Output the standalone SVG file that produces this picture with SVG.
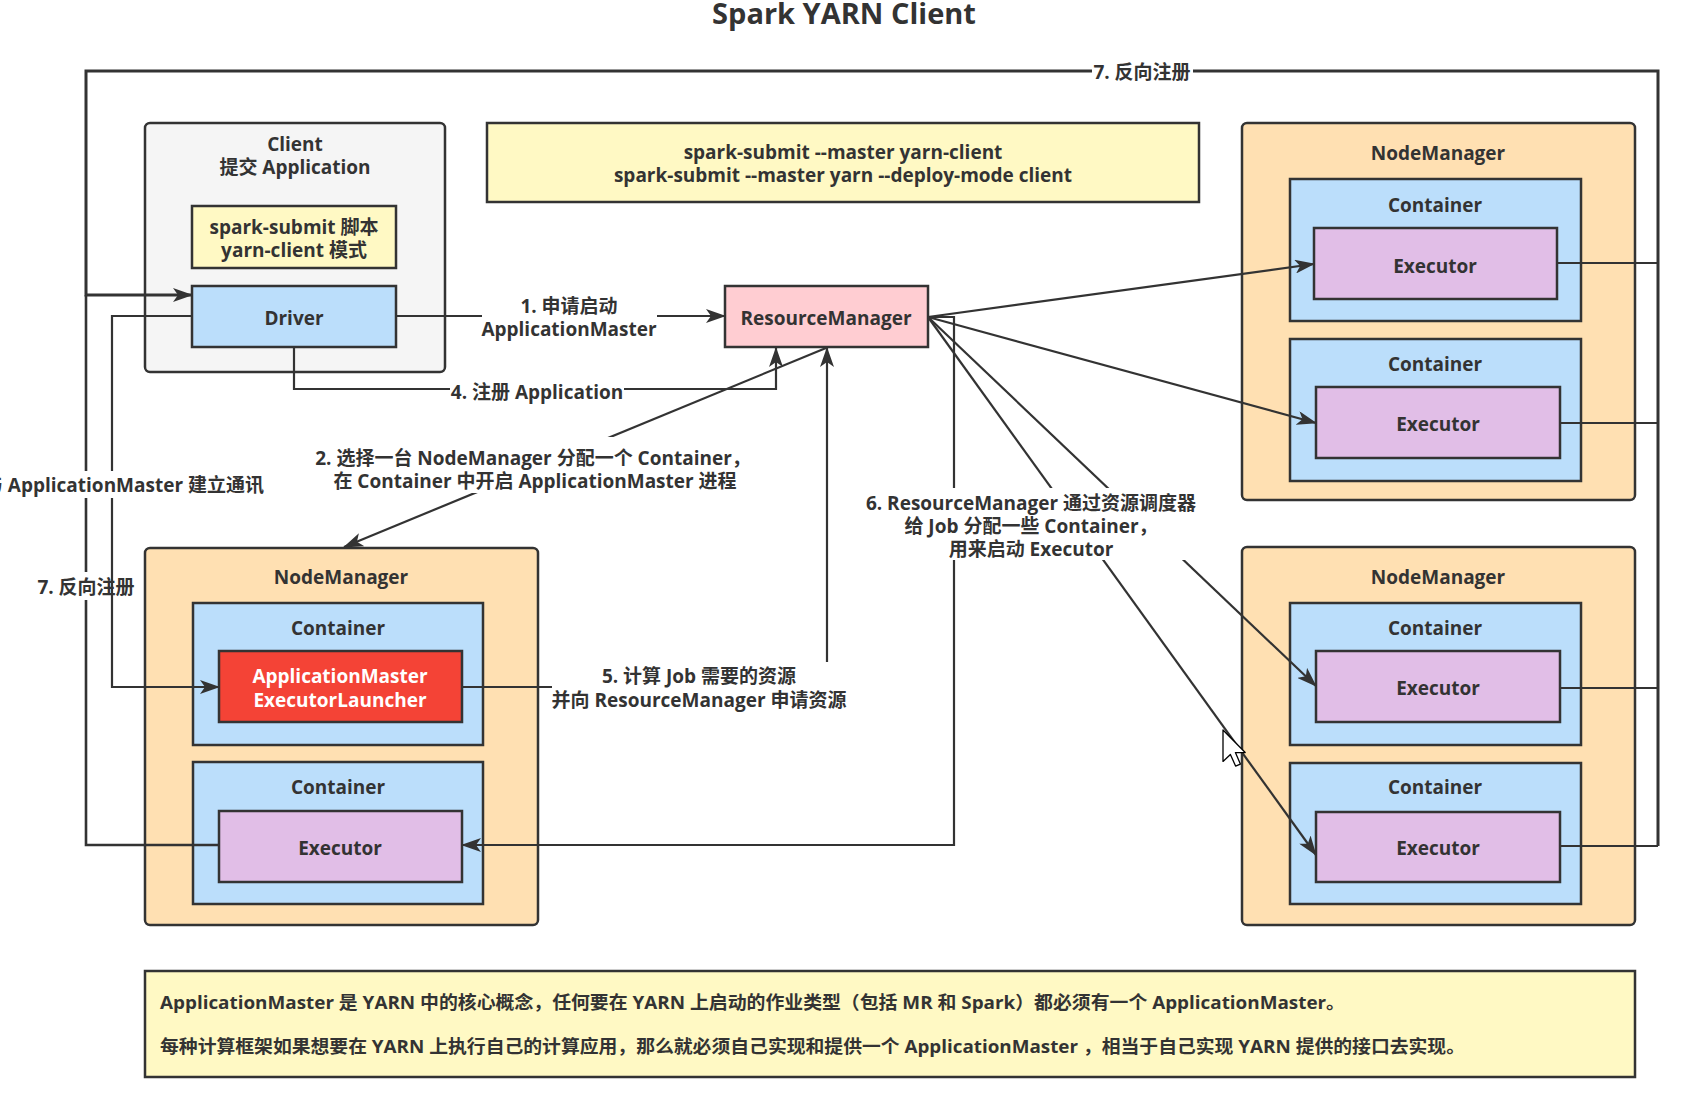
<svg xmlns="http://www.w3.org/2000/svg" width="1707" height="1108" viewBox="0 0 1707 1108">
<style>
.box{stroke:#333;stroke-width:2.5}
.t{font-family:"Open Sans","Noto Sans CJK SC",sans-serif;font-weight:700;font-size:19px;fill:#333;text-anchor:middle}
.w{fill:#fff}
.e{fill:none;stroke:#333;stroke-width:2.2}
.bg{fill:#fff}
.note{font-family:"Open Sans","Noto Sans CJK SC",sans-serif;font-weight:700;font-size:18px;fill:#333}
</style>
<defs>
<marker id="ar" markerUnits="userSpaceOnUse" markerWidth="20" markerHeight="14" viewBox="0 0 20 14" refX="19" refY="7" orient="auto">
<path d="M0,0 L20,7 L0,14 L5,7 z" fill="#333"/>
</marker>
</defs>
<rect width="1707" height="1108" fill="#fff"/>
<text class="t" x="844" y="24" style="font-size:29px">Spark YARN Client</text>

<g id="client">
<rect class="box" x="145" y="123" width="300" height="249" rx="5" fill="#f5f5f5"/>
<text class="t" x="295" y="151">Client</text>
<text class="t" x="295" y="174">提交 Application</text>
</g>
<g id="script">
<rect class="box" x="192" y="206" width="204" height="62" fill="#fff9c4"/>
<text class="t" x="294" y="234">spark-submit 脚本</text>
<text class="t" x="294" y="257">yarn-client 模式</text>
</g>
<g id="driver">
<rect class="box" x="192" y="286" width="204" height="61" fill="#bbdefb"/>
<text class="t" x="294" y="325">Driver</text>
</g>
<g id="cmd">
<rect class="box" x="487" y="123" width="712" height="79" fill="#fff9c4"/>
<text class="t" x="843" y="159">spark-submit --master yarn-client</text>
<text class="t" x="843" y="182">spark-submit --master yarn --deploy-mode client</text>
</g>
<g id="rm">
<rect class="box" x="725" y="286" width="203" height="61" fill="#ffcdd2"/>
<text class="t" x="826" y="325">ResourceManager</text>
</g>

<g id="nm1">
<rect class="box" x="145" y="548" width="393" height="377" rx="5" fill="#ffe0b2"/>
<text class="t" x="341" y="584">NodeManager</text>
</g>
<g id="nm1-c1">
<rect class="box" x="193" y="603" width="290" height="142" fill="#bbdefb"/>
<text class="t" x="338" y="635">Container</text>
</g>
<g id="am">
<rect class="box" x="219" y="651" width="243" height="71" fill="#f44336"/>
<text class="t w" x="340" y="683">ApplicationMaster</text>
<text class="t w" x="340" y="707">ExecutorLauncher</text>
</g>
<g id="nm1-c2">
<rect class="box" x="193" y="762" width="290" height="142" fill="#bbdefb"/>
<text class="t" x="338" y="794">Container</text>
</g>
<g id="nm1-exec">
<rect class="box" x="219" y="811" width="243" height="71" fill="#e1bee7"/>
<text class="t" x="340" y="855">Executor</text>
</g>

<g id="nm2">
<rect class="box" x="1242" y="123" width="393" height="377" rx="5" fill="#ffe0b2"/>
<text class="t" x="1438" y="160">NodeManager</text>
</g>
<g id="nm2-c1">
<rect class="box" x="1290" y="179" width="291" height="142" fill="#bbdefb"/>
<text class="t" x="1435" y="212">Container</text>
</g>
<g id="nm2-exec1">
<rect class="box" x="1314" y="228" width="243" height="71" fill="#e1bee7"/>
<text class="t" x="1435" y="273">Executor</text>
</g>
<g id="nm2-c2">
<rect class="box" x="1290" y="339" width="291" height="142" fill="#bbdefb"/>
<text class="t" x="1435" y="371">Container</text>
</g>
<g id="nm2-exec2">
<rect class="box" x="1316" y="387" width="244" height="71" fill="#e1bee7"/>
<text class="t" x="1438" y="431">Executor</text>
</g>

<g id="nm3">
<rect class="box" x="1242" y="547" width="393" height="378" rx="5" fill="#ffe0b2"/>
<text class="t" x="1438" y="584">NodeManager</text>
</g>
<g id="nm3-c1">
<rect class="box" x="1290" y="603" width="291" height="142" fill="#bbdefb"/>
<text class="t" x="1435" y="635">Container</text>
</g>
<g id="nm3-exec1">
<rect class="box" x="1316" y="651" width="244" height="71" fill="#e1bee7"/>
<text class="t" x="1438" y="695">Executor</text>
</g>
<g id="nm3-c2">
<rect class="box" x="1290" y="763" width="291" height="141" fill="#bbdefb"/>
<text class="t" x="1435" y="794">Container</text>
</g>
<g id="nm3-exec2">
<rect class="box" x="1316" y="812" width="244" height="70" fill="#e1bee7"/>
<text class="t" x="1438" y="855">Executor</text>
</g>

<g id="note">
<rect class="box" x="145" y="971" width="1490" height="106" fill="#fff9c4"/>
<text class="note" x="160" y="1009" textLength="1185" lengthAdjust="spacingAndGlyphs">ApplicationMaster 是 YARN 中的核心概念，任何要在 YARN 上启动的作业类型（包括 MR 和 Spark）都必须有一个 ApplicationMaster。</text>
<text class="note" x="160" y="1053" textLength="1305" lengthAdjust="spacingAndGlyphs">每种计算框架如果想要在 YARN 上执行自己的计算应用，那么就必须自己实现和提供一个 ApplicationMaster ，相当于自己实现 YARN 提供的接口去实现。</text>
</g>

<g id="connectors">
<path class="e" d="M1557,263 H1658 M1560,423 H1658 M1560,688 H1658 M1560,846 H1658"/>
<path class="e" style="stroke-width:3" d="M1658,846 V71 H86 V295 H192" marker-end="url(#ar)"/>
<path class="e" style="stroke-width:2.6" d="M219,845 H86 V295"/>
<rect class="bg" x="1092" y="60" width="101" height="25"/>
<text class="t" x="1142" y="79">7. 反向注册</text>
<rect class="bg" x="36" y="572" width="101" height="28"/>
<text class="t" x="86" y="594">7. 反向注册</text>
<path class="e" d="M192,316 H112 V687 H219" marker-end="url(#ar)"/>
<rect class="bg" x="-20" y="471" width="286" height="27"/>
<text class="t" x="264" y="492" style="text-anchor:end">与 ApplicationMaster 建立通讯</text>
<path class="e" d="M396,316 H725" marker-end="url(#ar)"/>
<rect class="bg" x="482" y="293" width="175" height="48"/>
<text class="t" x="569" y="313">1. 申请启动</text>
<text class="t" x="569" y="336">ApplicationMaster</text>
<path class="e" d="M294,347 V389 H776 V348" marker-end="url(#ar)"/>
<rect class="bg" x="450" y="380" width="174" height="25"/>
<text class="t" x="537" y="399">4. 注册 Application</text>
<path class="e" d="M826,348 L344,547" marker-end="url(#ar)"/>
<rect class="bg" x="318" y="437" width="430" height="56"/>
<text class="t" x="533" y="465">2. 选择一台 NodeManager 分配一个 Container，</text>
<text class="t" x="535" y="488">在 Container 中开启 ApplicationMaster 进程</text>
<path class="e" d="M462,687 H827 V348" marker-end="url(#ar)"/>
<rect class="bg" x="552" y="662" width="294" height="50"/>
<text class="t" x="699" y="683">5. 计算 Job 需要的资源</text>
<text class="t" x="699" y="707">并向 ResourceManager 申请资源</text>
<path class="e" d="M928,317 H954 V845 H462" marker-end="url(#ar)"/>
<path class="e" d="M928,317 L1314,264" marker-end="url(#ar)"/>
<path class="e" d="M928,317 L1316,423" marker-end="url(#ar)"/>
<path class="e" d="M928,317 L1316,686" marker-end="url(#ar)"/>
<path class="e" d="M928,317 L1316,855" marker-end="url(#ar)"/>
<rect class="bg" x="866" y="488" width="331" height="72"/>
<text class="t" x="1031" y="510">6. ResourceManager 通过资源调度器</text>
<text class="t" x="1031" y="533">给 Job 分配一些 Container，</text>
<text class="t" x="1031" y="556">用来启动 Executor</text>
</g>
<g id="cursor" transform="translate(1223,730) scale(1.85)">
<path d="M0,0 V17 L4,13.2 L6.8,19.5 L9.4,18.4 L6.7,12.2 L12,12.2 Z" fill="#fff" stroke="#000" stroke-width="0.7" stroke-linejoin="round"/>
</g>
</svg>
